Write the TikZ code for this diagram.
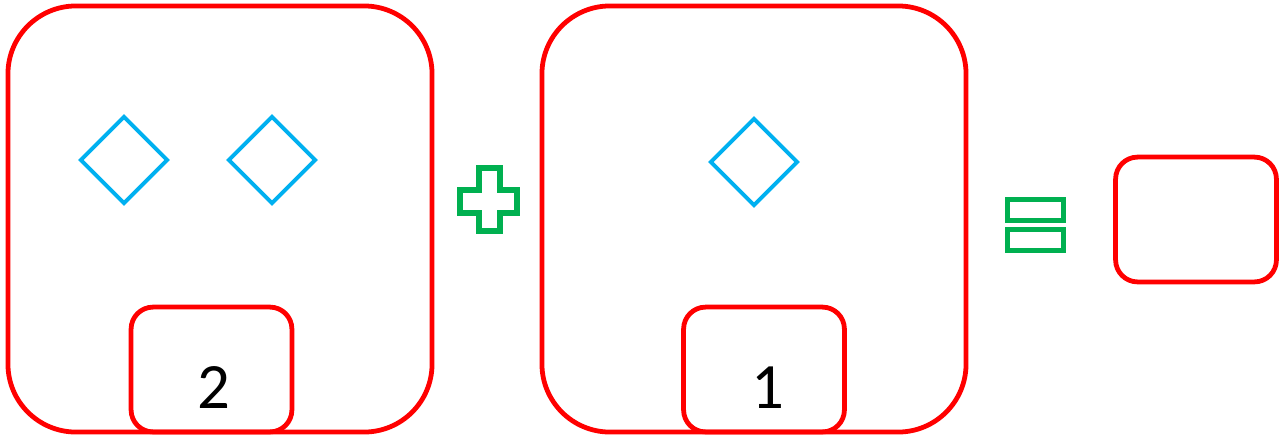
\documentclass[tikz,border=0pt]{standalone}
\usepackage{fontspec}
\setmainfont{Carlito}
\usepackage{tikz}
\usetikzlibrary{shapes.geometric}
\definecolor{boxred}{HTML}{FF0000}
\definecolor{gemblue}{HTML}{00B0F0}
\definecolor{opgreen}{HTML}{00B050}

\begin{document}
\begin{tikzpicture}[x=0.025cm, y=-0.025cm,
  bigbox/.style={draw=boxred, line width=3.4pt, rounded corners=1.7cm,
    minimum width=10.6cm, minimum height=10.65cm},
  tagbox/.style={draw=boxred, line width=3.4pt, rounded corners=0.55cm,
    minimum width=4.02cm, minimum height=3.12cm, inner sep=0pt},
  gem/.style={diamond, draw=gemblue, line width=2.8pt, inner sep=0pt,
    minimum width=2.2cm, minimum height=2.2cm},
  opline/.style={draw=opgreen, line width=4pt, line join=miter},
  numlabel/.style={font=\fontsize{46}{46}\selectfont}]
\useasboundingbox (0,0) rectangle (1280,436);
% first group
\node[bigbox] (groupA) at (220,219) {};
\node[gem] (gemA1) at (124,160) {};
\node[gem] (gemA2) at (272,160) {};
\node[tagbox] (tagA) at (211.5,369.5) {};
\node[numlabel] (numA) at (214,388) {2};
% plus
\draw[opline] (479,168) -- (500,168) -- (500,190) -- (517,190) -- (517,213)
  -- (500,213) -- (500,231) -- (479,231) -- (479,213) -- (460,213)
  -- (460,190) -- (479,190) -- cycle;
% second group
\node[bigbox] (groupB) at (754,219) {};
\node[gem] (gemB1) at (754,162) {};
\node[tagbox] (tagB) at (764,369.5) {};
\node[numlabel] (numB) at (768,388) {1};
% equals
\draw[opline] (1007.5,199.5) rectangle (1063.5,220.5);
\draw[opline] (1007.5,229.5) rectangle (1063.5,250.5);
% result
\node[tagbox] (result) at (1196,219.5) {};
\end{tikzpicture}
\end{document}
